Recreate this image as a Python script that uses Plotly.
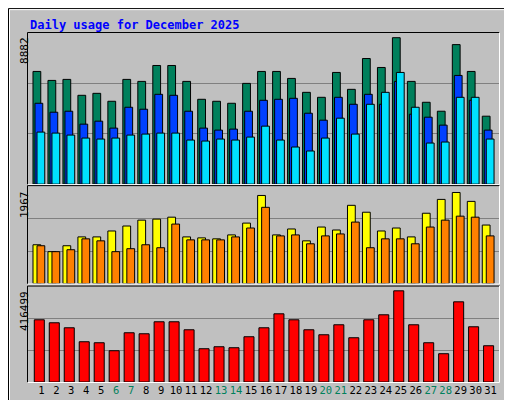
import plotly.graph_objects as go

days = list(range(1, 32))
weekend = [6, 7, 13, 14, 20, 21, 27, 28]
hits = [6834,6291,6352,5387,5507,5025,6352,6231,7196,7196,6231,5146,5025,4904,6110,6834,6834,6412,5568,5266,6774,5749,7618,7075,8882,6231,4965,4422,8462,6834,4120]
files = [4904,4362,4422,3638,3819,3397,4663,4543,5447,5387,4422,3397,3276,3337,4422,5085,5146,5206,4301,3879,5266,4844,5447,4844,6231,4241,4060,3578,6593,5085,3276]
pages = [3156,3095,2975,2794,2734,2794,2975,3035,3095,3095,2673,2613,2734,2673,2854,3518,2673,2251,2010,2794,4000,3035,4844,5568,6774,4663,2492,2553,5266,5266,2734]
visits = [838,689,817,1008,1008,1136,1243,1370,1392,1434,1008,987,966,1051,1306,1903,1051,1179,923,1221,1157,1690,1541,1136,1200,1008,1519,1818,1967,1775,1264]
sites = [817,689,731,966,923,689,753,838,774,1285,944,944,944,1008,1200,1647,1030,1051,859,1030,1072,1328,774,966,966,859,1221,1370,1456,1434,1030]
kbytes = [284240,270560,247760,183920,179360,142880,224960,220400,275120,275120,238640,152000,161120,156560,206720,247760,311600,284240,238640,215840,261440,202160,284240,307040,416499,261440,179360,129200,366320,252320,165680]
title = "Daily usage for December 2025"

W, H = 512, 400
L, R, T, B = 20, 21, 25, 24
pw, ph = W - L - R, H - T - B
def px(x): return (x - L) / pw
def py(y): return (H - B - y) / ph

fig = go.Figure()
ol = dict(color="black", width=1)
def bar(y, col, off, wid, ax):
    fig.add_trace(go.Bar(x=days, y=y, marker=dict(color=col, line=ol), offset=off, width=wid,
                         xaxis="x", yaxis=ax, showlegend=False, hoverinfo="skip"))
bar(hits, "#00805c", -0.367, 0.52, "y")
bar(files, "#0040ff", -0.233, 0.52, "y")
bar(pages, "#00e0ff", -0.1, 0.52, "y")
bar(visits, "#ffff00", -0.367, 0.52, "y2")
bar(sites, "#ff8000", -0.1, 0.52, "y2")
bar(kbytes, "#ff0000", -0.28, 0.67, "y3")

def yax(dom, top):
    return dict(domain=dom, range=[0, top], tickvals=[top/3, 2*top/3], showticklabels=False,
                showgrid=True, gridcolor="#808080", gridwidth=1, zeroline=False, fixedrange=True)
ytop = max(hits) * 1.032
ymid = max(visits) * 1.07
ybot = max(kbytes) * 1.047
ticktext = [f"<span style='color:#00805c'>{d}</span>" if d in weekend else str(d) for d in days]
fig.update_layout(
    width=W, height=H, margin=dict(l=L, r=R, t=T, b=B),
    paper_bgcolor="#c0c0c0", plot_bgcolor="#c0c0c0", barmode="overlay",
    font=dict(family="DejaVu Sans Mono", size=11, color="black"),
    xaxis=dict(range=[0.3, 31.75], tickvals=[d + 0.19 for d in days], ticktext=ticktext, anchor="y3",
               tickangle=0, showgrid=False, zeroline=False, ticks="", tickfont=dict(size=10.5), fixedrange=True),
    yaxis=yax([py(177), 1], ytop),
    yaxis2=yax([py(277), py(179)], ymid),
    yaxis3=yax([0, py(280)], ybot),
)
shapes = []
def line(x0, y0, x1, y1, col, w=1):
    shapes.append(dict(type="line", xref="paper", yref="paper", x0=px(x0), x1=px(x1), y0=py(y0), y1=py(y1),
                       line=dict(color=col, width=w), layer="above"))
def fillrect(x0, y0, x1, y1, col):
    shapes.append(dict(type="rect", xref="paper", yref="paper", x0=px(x0), x1=px(x1), y0=py(y0), y1=py(y1),
                       line=dict(width=0), fillcolor=col, layer="below"))
fillrect(507, 2, 511, 399, "#808080")
fillrect(2, 395, 511, 399, "#808080")
line(0.5, 0.5, 511.5, 0.5, "black"); line(0.5, 0.5, 0.5, 399.5, "black")
line(511.5, 0.5, 511.5, 399.5, "black"); line(0.5, 399.5, 511.5, 399.5, "black")
line(1.5, 1.5, 506, 1.5, "white"); line(1.5, 1.5, 1.5, 394, "white")
for y0, y1 in [(24.5, 177.5), (178.5, 277.5), (279.5, 376.5)]:
    line(19.5, y0, 491.5, y0, "black"); line(19.5, y0, 19.5, y1, "black")
    line(491.5, y0, 491.5, y1, "white"); line(19.5, y1, 491.5, y1, "white")
fig.update_layout(shapes=shapes)

ann = []
ann.append(dict(text=f"<b>{title}</b>", x=px(20), y=py(17), xanchor="left", yanchor="middle",
                font=dict(color="#0000ff", size=12)))
for lbl, ytop_px in [(f"{max(hits)}", 27), (f"{max(visits)}", 182), (f"{max(kbytes)}", 283)]:
    ann.append(dict(text=lbl, x=px(8), y=py(ytop_px), textangle=-90, xanchor="left", yanchor="top",
                    font=dict(size=11)))
ann.append(dict(text="<span style='color:#00e0ff'>Pages</span> / <span style='color:#0040ff'>Files</span> / <span style='color:#00805c'>Hits</span>",
                x=px(493), y=py(28), textangle=-90, xanchor="left", yanchor="top"))
ann.append(dict(text="<span style='color:#ff8000'>Sites</span> / <span style='color:#ffff00'>Visits</span>",
                x=px(493), y=py(276), textangle=-90, xanchor="left", yanchor="bottom"))
ann.append(dict(text="<span style='color:#ff0000'>KBytes</span>",
                x=px(493), y=py(376), textangle=-90, xanchor="left", yanchor="bottom"))
for a in ann:
    a.update(xref="paper", yref="paper", showarrow=False)
fig.update_layout(annotations=ann)
fig.write_html("out.html")
